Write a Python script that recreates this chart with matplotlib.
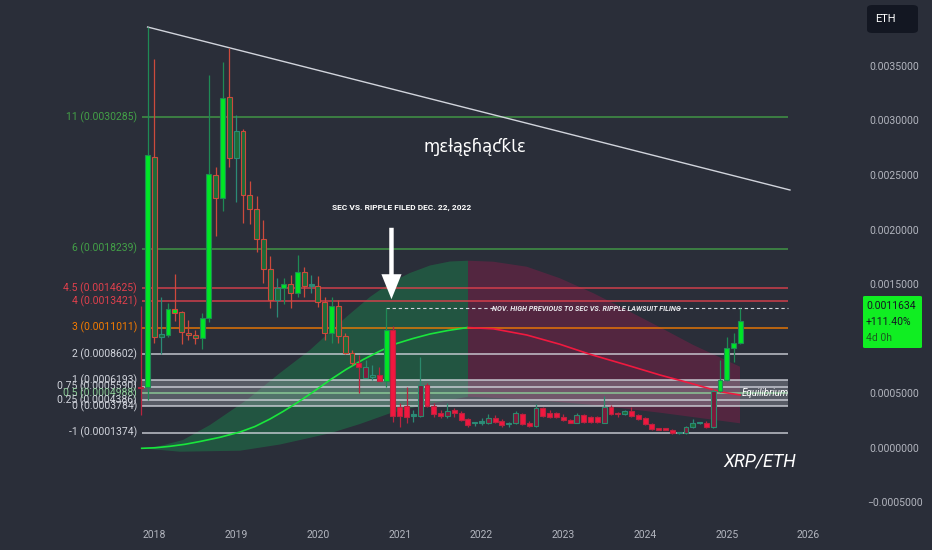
import numpy as np
import pandas as pd
import matplotlib
matplotlib.use('Agg')
import matplotlib.pyplot as plt
from matplotlib.patches import FancyBboxPatch

plt.rcParams['font.family'] = ['Roboto', 'DejaVu Sans']
NARROW = ['Liberation Sans Narrow', 'Roboto', 'DejaVu Sans']
BG = '#2a2e39'

# ---------------- data (monthly XRP/ETH candles, values in 1e-6 ETH) ----------------
months = pd.period_range('2017-11', '2025-03', freq='M')
opens_u = [556, 554, 2667, 1015, 1033, 1235, 1241, 1054, 1033, 1006, 1192, 2502, 2286, 3212,
           2653, 2906, 2316, 2185, 1910, 1635, 1354, 1461, 1498, 1415, 1613, 1485,
           1485, 1333, 1049, 1302, 1024, 871, 774, 742, 645, 666, 614, 1079,
           376, 382, 293, 293, 575, 385, 315, 293, 346, 315, 260, 224,
           229, 229, 269, 247, 217, 224, 306, 229, 202, 361, 315, 315,
           284, 254, 229, 300, 279, 284, 229, 376, 309, 309, 336, 300,
           269, 217, 169, 169, 162, 132, 132, 187, 226, 229, 192, 520,
           621, 917, 957]
closes_u = [547, 2683, 1017, 1038, 1269, 1271, 1058, 1030, 1003, 1189, 2509, 2286, 3203, 2653,
            2906, 2316, 2185, 1910, 1635, 1354, 1461, 1498, 1415, 1613, 1485, 1494,
            1331, 1049, 1302, 1024, 871, 774, 737, 642, 669, 614, 1079, 293,
            293, 284, 297, 575, 385, 306, 293, 339, 315, 254, 208, 226,
            232, 269, 238, 208, 220, 315, 217, 202, 361, 291, 284, 279,
            254, 229, 300, 238, 238, 238, 376, 309, 306, 336, 291, 260,
            217, 169, 166, 166, 132, 135, 187, 224, 231, 192, 520, 621,
            917, 957, 1163.4]
highs_u = [1299, 3856, 3560, 1381, 1329, 1592, 1253, 1171, 1079, 1235, 3416, 2570, 3538, 3661,
           3050, 2918, 2447, 2307, 2087, 1757, 1553, 1558, 1583, 1766, 1659, 1583,
           1574, 1384, 1384, 1354, 1051, 896, 850, 804, 758, 742, 1278, 1116,
           410, 559, 346, 829, 590, 410, 346, 410, 364, 336, 269, 238,
           269, 309, 300, 263, 238, 336, 318, 245, 401, 376, 346, 327,
           309, 263, 321, 313, 291, 295, 474, 391, 330, 346, 376, 309,
           281, 226, 176, 176, 167, 139, 199, 260, 240, 245, 538, 804,
           1017, 1049, 1283]
lows_u = [300, 437, 960, 859, 1015, 1161, 951, 987, 951, 905, 1155, 1940, 2172, 2576,
          2255, 2057, 2050, 1797, 1507, 1278, 1201, 1317, 1278, 1384, 1384, 1415,
          1287, 987, 957, 960, 859, 758, 499, 639, 621, 611, 554, 238,
          192, 229, 238, 284, 376, 284, 272, 272, 284, 245, 192, 199,
          208, 217, 229, 192, 192, 214, 208, 192, 192, 281, 272, 269,
          245, 222, 222, 229, 229, 229, 222, 300, 284, 300, 281, 254,
          208, 162, 158, 158, 126, 126, 126, 181, 217, 185, 183, 511,
          611, 788, 951]
styles = ['R', 'G', 'g', 't', 'G', 'Gr', 'g', 'g', 'g', 'G', 'G', 'g', 'G', 'g',
          't', 'g', 'g', 'g', 'g', 'g', 't', 'G', 'g', 'G', 'g', 'd',
          'g', 'g', 'G', 'g', 'g', 'g', 'R', 'r', 't', 'R', 'G', 'R',
          'R', 'R', 'd', 'r', 'R', 'R', 'R', 'r', 'R', 'R', 'R', 'd',
          'd', 'r', 'R', 'R', 'd', 'r', 'R', 'R', 'r', 'R', 'R', 'R',
          'R', 'R', 'r', 'R', 'R', 'R', 'r', 'R', 'R', 't', 'R', 'R',
          'R', 'R', 'R', 'R', 'R', 'd', 'r', 't', 'd', 'R', 'r', 'G',
          'G', 'G', 'G']
price_change = '+111.40%'
countdown = '4d 0h'

# Fibonacci levels
fib_levels = [11, 6, 4.5, 4, 3, 2, 1, 0.75, 0.5, 0.25, 0, -1]
fib_values = [0.0030285, 0.0018239, 0.0014625, 0.0013421, 0.0011011, 0.0008602,
              0.0006193, 0.0005590, 0.0004988, 0.0004386, 0.0003784, 0.0001374]
fib_colors = ['#43a047', '#43a047', '#e0404c', '#e0404c', '#f57c00', '#d1d4dc',
              '#d1d4dc', '#d1d4dc', '#8fd19a', '#d1d4dc', '#d1d4dc', '#d1d4dc']
fib_start, fib_end = 2017.845, 2025.748

# trend line end point
trend_end = (2025.772, 0.002362)

# green (rising) curve and its band
gc_x = [2017.845, 2018.007, 2018.191, 2018.374, 2018.557, 2018.802, 2019.047, 2019.230,
        2019.414, 2019.573, 2019.740, 2019.940, 2020.147, 2020.343, 2020.554, 2020.759,
        2020.963, 2021.162, 2021.370, 2021.590, 2021.823]
gc_y = [-0.0000055, -0.0000009, 0.0000128, 0.0000312, 0.0000568, 0.0000953, 0.0001439,
        0.0001943, 0.0002631, 0.0003318, 0.0004097, 0.0005105, 0.0006205, 0.0007168,
        0.0008084, 0.0008863, 0.0009551, 0.0010009, 0.0010422, 0.0010742, 0.0011011]
gu_x = [2017.845, 2018.068, 2018.350, 2018.680, 2019.129, 2019.536, 2019.903, 2020.351,
        2020.636, 2020.881, 2021.125, 2021.370, 2021.615, 2021.835]
gu_y = [-0.0000055, 0.0000156, 0.0000706, 0.0002081, 0.0004372, 0.0006847, 0.0008955,
        0.0012007, 0.0013813, 0.0015096, 0.0016013, 0.0016700, 0.0017067, 0.0017140]
gl_x = [2017.845, 2018.313, 2019.047, 2019.536, 2020.147, 2020.514, 2020.881, 2021.370, 2021.835]
gl_y = [-0.0000055, -0.0000367, -0.0000275, 0.0000293, 0.0001320, 0.0002172, 0.0003153,
        0.0004051, 0.0004675]

# red (falling) curve and its band
rc_x = [2021.835, 2022.144, 2022.553, 2022.960, 2023.327, 2023.775, 2024.182, 2024.590,
        2024.916, 2025.161]
rc_y = [0.0011011, 0.0010900, 0.0010330, 0.0009478, 0.0008561, 0.0007580, 0.0006664,
        0.0005839, 0.0005133, 0.0004830]
mu_x = [2021.835, 2022.144, 2022.553, 2022.960, 2023.371, 2023.775, 2024.182, 2024.590, 2025.161]
mu_y = [0.0017140, 0.0017049, 0.0016590, 0.0015527, 0.0014152, 0.0012621, 0.0011036,
        0.0009413, 0.0007424]
ml_x = [2021.835, 2022.553, 2023.371, 2024.182, 2025.161]
ml_y = [0.0004675, 0.0004436, 0.0003914, 0.0003208, 0.0002236]

years = [2018, 2019, 2020, 2021, 2022, 2023, 2024, 2025, 2026]
y_ticks = [-0.0005, 0.0, 0.0005, 0.0015, 0.0020, 0.0025, 0.0030, 0.0035]

# ---------------- derived ----------------
opens = np.array(opens_u) * 1e-6
closes = np.array(closes_u) * 1e-6
highs = np.array(highs_u) * 1e-6
lows = np.array(lows_u) * 1e-6
t = np.array(months.year + (months.month - 1) / 12.0, dtype=float)

STYLE = {
    'G': ('#00e626', '#1f8a55'),
    'Gr': ('#00e626', '#d0483c'),
    'g': ('#1d6b38', '#cc4a3c'),
    't': ('#1d6b38', '#2b8a76'),
    'R': ('#f2173f', '#b8243f'),
    'r': ('#7d1a3b', '#2b8a6c'),
    'd': ('#2b8a76', '#2b8a76'),
}
fills = [STYLE[s][0] for s in styles]
edges = [STYLE[s][1] for s in styles]

# ---------------- figure ----------------
fig = plt.figure(figsize=(9.32, 5.5), dpi=100, facecolor=BG)
ax = fig.add_axes([0, 30 / 550, 850 / 932, 520 / 550])
ax.set_facecolor(BG)
ax.set_xlim(2016.112, 2026.506)
ax.set_ylim(-0.0006627, 0.0041036)
for sp in ax.spines.values():
    sp.set_visible(False)

# bands
ax.fill(np.r_[gu_x, gl_x[::-1]], np.r_[gu_y, gl_y[::-1]], color='#15a050', alpha=0.35, lw=0, zorder=1)
ax.fill(np.r_[mu_x, ml_x[::-1]], np.r_[mu_y, ml_y[::-1]], color='#a0184e', alpha=0.35, lw=0, zorder=1)

# fib equilibrium zone (0 .. 1)
ax.fill_between([fib_start, fib_end], fib_values[10], fib_values[6], color='#a3a6af',
                alpha=0.38, lw=0, zorder=1.5)
ax.hlines(fib_values, fib_start, fib_end, colors=fib_colors, lw=1.1, alpha=0.9, zorder=2)
for lvl, v, c in zip(fib_levels, fib_values, fib_colors):
    ax.text(2017.787, v, f"{lvl:g} ({v:.7f})", ha='right', va='center', color=c,
            fontsize=7.5, family=NARROW, zorder=6)

# trend line from Dec 2017 high
ax.plot([t[1], trend_end[0]], [highs[1], trend_end[1]], color='#d1d4dc', lw=1.0, zorder=2)

# curves
ax.plot(gc_x, gc_y, color='#19e63c', lw=1.2, zorder=3)
ax.plot(rc_x, rc_y, color='#f0193f', lw=1.2, zorder=3)

# Nov 2020 high dashed line
nov_i = list(months.strftime('%Y-%m')).index('2020-11')
nov_high = highs[nov_i]
ax.hlines(nov_high, t[nov_i], 2022.177, colors='#d1d4dc', lw=0.8, linestyles=(0, (3, 2.5)), zorder=3)
ax.hlines(nov_high, 2024.390, fib_end, colors='#d1d4dc', lw=0.8, linestyles=(0, (3, 2.5)), zorder=3)
ax.text(2023.283, nov_high, 'NOV. HIGH PREVIOUS TO SEC VS. RIPPLE LAWSUIT FILING', ha='center',
        va='center', color='#e8e8ec', fontsize=5.2, style='italic', weight='bold',
        family=NARROW, zorder=6)

# candles
ax.vlines(t, lows, highs, colors=edges, lw=0.9, zorder=4)
body_lo = np.minimum(opens, closes)
body_h = np.maximum(np.abs(closes - opens), 0.000012)
ax.bar(t, body_h, width=0.06, bottom=body_lo, color=fills, edgecolor=edges, linewidth=0.8, zorder=5)

# annotations
ax.annotate('', xy=(2020.899, 0.0013355), xytext=(2020.899, 0.0020412),
            arrowprops=dict(arrowstyle='simple,head_length=1.8,head_width=1.45,tail_width=0.32',
                            color='white', lw=0), zorder=6)
ax.text(2021.024, 0.0022035, 'SEC VS. RIPPLE FILED DEC. 22, 2022', ha='center', va='center',
        color='white', fontsize=6, weight='bold', family=NARROW, zorder=6)
ax.text(2021.920, 0.002756, 'ɱɛƚąʂɦąƈƙƖɛ', ha='center', va='center', color='white',
        fontsize=12, family=['DejaVu Sans'], zorder=6)
ax.text(2025.466, fib_values[8], 'Equilibrium', ha='center', va='center', color='white',
        fontsize=7, style='italic', family=NARROW, zorder=6)
ax.text(2025.405, -0.000131, 'XRP/ETH', ha='center', va='center', color='white',
        fontsize=13, style='italic', family=NARROW, zorder=6)

# axes ticks
ax.set_xticks(years)
ax.set_xticklabels([str(y) for y in years])
ax.tick_params(axis='x', length=0, pad=7, colors='#b2b5be', labelsize=7.5)
ax.yaxis.tick_right()
ax.set_yticks(y_ticks)
ax.set_yticklabels([f"{v:.7f}".replace('-', '\u2212') for v in y_ticks])
ax.tick_params(axis='y', length=0, pad=32, colors='#b2b5be', labelsize=7.5)
for lbl in ax.get_yticklabels():
    lbl.set_horizontalalignment('center')

# right-side boxes
fig.add_artist(FancyBboxPatch((867 / 932, 517 / 550), 51 / 932, 28 / 550,
                              boxstyle='round,pad=0,rounding_size=0.006',
                              transform=fig.transFigure, fc='#131722', ec='none'))
fig.text(875 / 932, 531 / 550, 'ETH', color='white', fontsize=8, va='center', ha='left')
fig.add_artist(FancyBboxPatch((863 / 932, 202 / 550), 59 / 932, 52 / 550,
                              boxstyle='round,pad=0,rounding_size=0.002',
                              transform=fig.transFigure, fc='#10ee22', ec='none'))
fig.text(866 / 932, 244 / 550, f"{closes[-1]:.7f}", color='#131722', fontsize=7.5, va='center')
fig.text(866 / 932, 228 / 550, price_change, color='#131722', fontsize=7.5, va='center')
fig.text(866 / 932, 212 / 550, countdown, color='#1b5e20', fontsize=7.5, va='center')

fig.savefig('out.png', dpi=100, facecolor=BG)
